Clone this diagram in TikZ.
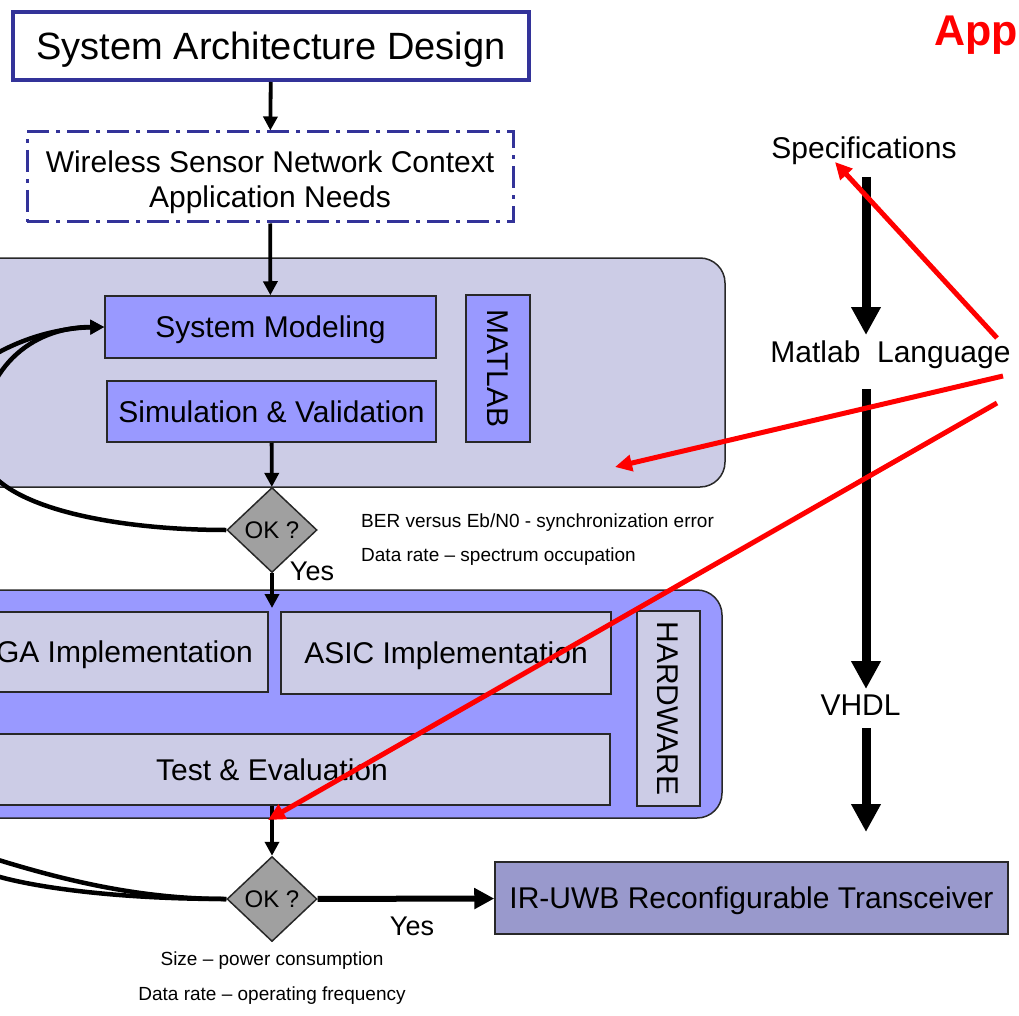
\documentclass[tikz,border=0pt]{standalone}
\usepackage{fontspec}
\setmainfont{Liberation Sans}
\usetikzlibrary{arrows.meta,shapes.geometric}
\definecolor{navy}{RGB}{51,51,153}
\definecolor{lav}{RGB}{204,204,230}
\definecolor{peri}{RGB}{153,153,255}
\definecolor{slate}{RGB}{153,153,204}
\definecolor{okgray}{RGB}{160,160,160}
\definecolor{edge}{RGB}{40,40,40}
\begin{document}
\begin{tikzpicture}[x=1pt,y=-1pt,
  bigf/.style={font=\fontsize{30}{35}\selectfont},
  smallf/.style={font=\fontsize{19}{22}\selectfont},
  blockbox/.style={draw=edge, line width=1.5pt, inner sep=0pt, bigf,
    text height=21.5pt, text depth=0pt},
  darkbox/.style={blockbox, fill=peri},
  lightbox/.style={blockbox, fill=lav},
  panel/.style={draw=edge, line width=1.5pt, rounded corners=25pt, inner sep=0pt},
  decision/.style={diamond, draw=edge, line width=1.5pt, fill=okgray, inner sep=0pt,
    minimum width=90pt, minimum height=85pt, font=\fontsize{24}{28}\selectfont,
    text height=17pt, text depth=0pt},
  flow/.style={line width=3.8pt, -{Triangle[length=14pt,width=14pt]}},
  loopback/.style={line width=4.5pt},
  bigarrow/.style={line width=9pt, -{Triangle[length=28pt,width=28pt]}},
  redarrow/.style={red, line width=5pt, -{Triangle[length=17pt,width=16pt]}},
  yesf/.style={font=\fontsize{27}{30}\selectfont, inner sep=0pt},
]
\useasboundingbox (0,0) rectangle (1019,1016);
\clip (0,0) rectangle (1019,1016);

% top of the flow
\node[draw=navy, line width=4pt, fill=white, minimum width=516pt, minimum height=68pt,
  inner sep=0pt, font=\fontsize{38}{44}\selectfont, text height=27pt, text depth=0pt]
  (sad) at (271,46) {System Architecture Design};
\node[draw=navy, line width=3pt, dash pattern=on 22pt off 7pt on 4pt off 7pt,
  minimum width=486pt, minimum height=90pt, inner sep=0pt] (wsn) at (270,177) {};
\node[bigf, align=center, inner sep=0pt] (wsntext) at (270,182)
  {Wireless Sensor Network Context\\Application Needs};

% modelling panel
\node[panel, fill=lav, minimum width=785pt, minimum height=229pt] (simpanel) at (332.5,372.5) {};
\node[darkbox, minimum width=331pt, minimum height=62pt] (sm) at (270.5,327) {System Modeling};
\node[darkbox, minimum width=329pt, minimum height=61pt] (sv) at (271.5,411.5) {Simulation \& Validation};
\node[darkbox, rotate=-90, minimum width=147pt, minimum height=64pt] (matlab) at (498,368.5) {MATLAB};

\node[decision] (d1) at (272,530) {OK ?};
\node[yesf] (yes1) at (312,571) {Yes};
\node[smallf, anchor=base west, inner sep=0pt] (crit1) at (361,527) {BER versus Eb/N0 - synchronization error};
\node[smallf, anchor=base west, inner sep=0pt] (crit2) at (361,561) {Data rate – spectrum occupation};

% hardware panel
\node[panel, fill=peri, minimum width=802pt, minimum height=228pt] (hwpanel) at (321,704) {};
\node[lightbox, minimum width=331pt, minimum height=80pt] (fpga) at (102.5,652) {};
\node[bigf, anchor=east, inner sep=0pt, text height=21.5pt, text depth=0pt] (fpgatext) at (253,652) {GA Implementation};
\node[lightbox, minimum width=330pt, minimum height=82pt] (asic) at (446,653) {ASIC Implementation};
\node[lightbox, minimum width=676pt, minimum height=71pt] (te) at (272,769.5) {Test \& Evaluation};
\node[lightbox, rotate=-90, minimum width=195pt, minimum height=63pt] (hwlabel) at (668.5,708.5) {HARDWARE};
\coordinate (hwin) at (272,608);

\node[decision] (d2) at (272,899) {OK ?};
\node[yesf] (yes2) at (412,926) {Yes};
\node[blockbox, fill=slate, minimum width=513pt, minimum height=72pt] (ir) at (751.5,898)
  {IR-UWB Reconfigurable Transceiver};
\node[smallf, anchor=base, inner sep=0pt] (crit3) at (272,965) {Size – power consumption};
\node[smallf, anchor=base, inner sep=0pt] (crit4) at (272,1000) {Data rate – operating frequency};

% flow arrows
\draw[flow] (sad) -- (wsn);
\draw[flow] (wsn) -- (sm);
\draw[flow] (sv) -- (d1);
\draw[flow] (d1) -- (hwin);
\draw[flow] (te) -- (d2);
\draw[line width=6pt, -{Triangle[length=20pt,width=20pt]}] (d2) -- (ir);

% loops back to the modelling step
\coordinate (offhw) at (-45,846);
\draw[loopback] (d2.west) .. controls (130,899) and (45,876) .. (offhw);
\draw[loopback, -{Triangle[length=14pt,width=14pt]}] (d2.west) .. controls (120,899) and (40,888) .. (0,877)
  .. controls (-40,866) and (-130,820) .. (-130,620)
  .. controls (-130,390) and (10,329) .. (sm.west);
\draw[loopback, -{Triangle[length=14pt,width=14pt]}] (d1.west) .. controls (110,530) and (-20,505) .. (-20,445)
  .. controls (-20,370) and (30,327) .. (sm.west);

% language column
\node[font=\fontsize{43}{48}\selectfont\bfseries, text=red, anchor=base west, inner sep=0pt] (title) at (934,46) {App};
\node[bigf, anchor=base, inner sep=0pt] (spec) at (864,159) {Specifications};
\node[bigf, anchor=base, inner sep=0pt] (mlang) at (890.5,362) {Matlab\ \ Language};
\node[bigf, anchor=base, inner sep=0pt] (vhdl) at (860.5,715) {VHDL};
\coordinate (c1s) at (866,177);
\coordinate (c1e) at (866,335);
\coordinate (c2s) at (866,389);
\coordinate (c2e) at (866,689);
\coordinate (c3s) at (866,728);
\coordinate (c3e) at (866,832);
\draw[bigarrow] (c1s) -- (c1e);
\draw[bigarrow] (c2s) -- (c2e);
\draw[bigarrow] (c3s) -- (c3e);

% red pointers
\coordinate (r1s) at (997,338);
\coordinate (r2s) at (1003,376);
\coordinate (r2e) at (615,467);
\coordinate (r3s) at (997,403);
\coordinate (r3e) at (268,820);
\draw[redarrow] (r1s) -- (835,162);
\draw[redarrow] (r2s) -- (r2e);
\draw[redarrow] (r3s) -- (r3e);
\end{tikzpicture}
\end{document}
